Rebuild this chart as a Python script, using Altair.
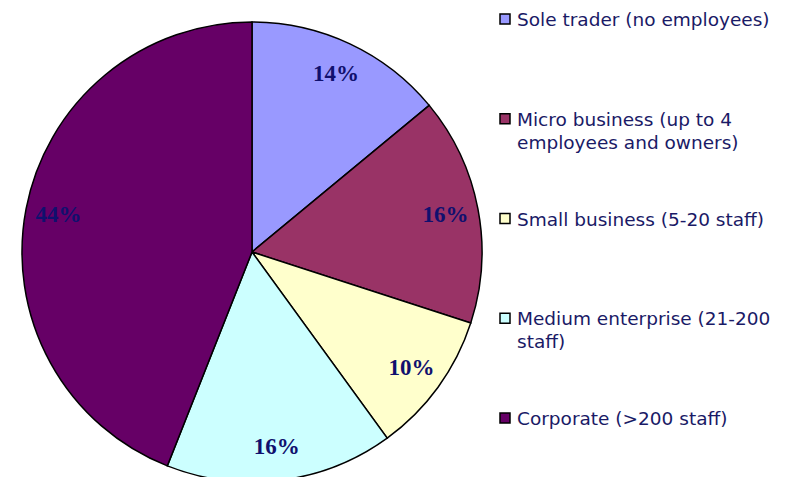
import altair as alt
import pandas as pd

categories = [
    "Sole trader (no employees)",
    "Micro business (up to 4 employees and owners)",
    "Small business (5-20 staff)",
    "Medium enterprise (21-200 staff)",
    "Corporate (>200 staff)",
]
legend_lines = [
    "Sole trader (no employees)",
    "Micro business (up to 4|employees and owners)",
    "Small business (5-20 staff)",
    "Medium enterprise (21-200|staff)",
    "Corporate (>200 staff)",
]
values = [14, 16, 10, 16, 44]
pct_labels = ["14%", "16%", "10%", "16%", "44%"]
colors = ["#9999FF", "#993366", "#FFFFCC", "#CCFFFF", "#660066"]

df = pd.DataFrame({
    "category": categories,
    "legend": legend_lines,
    "value": values,
    "pct": pct_labels,
    "idx": list(range(len(categories))),
})

cx, cy = 244, 244
color = alt.Color("category:N", scale=alt.Scale(domain=categories, range=colors), legend=None)

base = alt.Chart(df)

pie = base.mark_arc(outerRadius=230, stroke="black", strokeWidth=1.5).encode(
    theta=alt.Theta("value:Q", stack=True),
    order=alt.Order("idx:Q"),
    color=color,
    x=alt.value(cx), y=alt.value(cy),
)

labels = base.mark_text(
    radius=197, font="Liberation Serif", fontWeight="bold", fontSize=23, color="#10106e"
).encode(
    theta=alt.Theta("value:Q", stack=True),
    order=alt.Order("idx:Q"),
    text="pct:N",
    x=alt.value(cx), y=alt.value(cy),
)

ly = alt.Y("idx:Q", scale=alt.Scale(domain=[0, 4], range=[11, 410]), axis=None)

leg_sq = base.mark_square(size=100, stroke="black", strokeWidth=1.5, opacity=1).encode(
    x=alt.value(497), y=ly, color=color,
)

leg_txt = base.mark_text(
    align="left", baseline="top", dy=-8, lineBreak="|", lineHeight=23,
    font="DejaVu Sans", fontSize=18.5, color="#1a1a66",
).encode(
    x=alt.value(509), y=ly, text="legend:N",
)

chart = alt.layer(pie, labels, leg_sq, leg_txt).properties(
    width=793, height=469, padding=0,
    autosize=alt.AutoSizeParams(type="fit", contains="padding"),
).configure_view(stroke=None)

chart.save("out.html", embed_options={"renderer": "svg", "actions": False})
